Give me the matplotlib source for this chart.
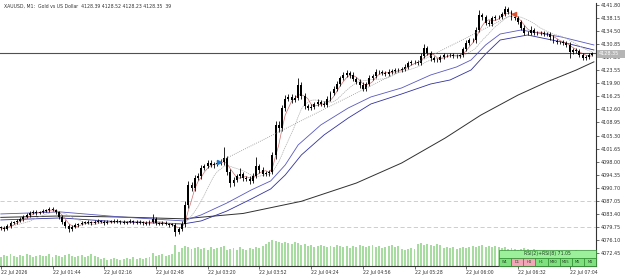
import matplotlib
matplotlib.use('Agg')
import matplotlib.pyplot as plt
import numpy as np
import pandas as pd
from matplotlib.patches import Rectangle

# ---------------- data ----------------
bar_minutes = 2  # each candle = 2 minutes, starting 22 Jul 01:12
first_open = 4079.60
closes = [
 4079.45,4079.17,4080.01,4080.85,4081.13,4081.41,4081.97,4082.53,4083.09,4083.65,
 4083.92,4083.65,4083.92,4084.20,4084.48,4084.76,4084.48,4083.92,4082.53,4081.13,
 4080.01,4079.17,4079.73,4080.29,4080.57,4080.85,4080.85,4081.13,4080.85,4081.13,
 4081.41,4081.13,4080.85,4081.13,4081.41,4081.13,4081.41,4081.13,4080.85,4081.13,
 4081.41,4081.13,4080.85,4081.13,4080.85,4080.57,4081.13,4081.97,4080.85,4080.57,
 4080.85,4080.57,4080.29,4080.29,4078.33,4079.17,4080.57,4085.88,4091.47,4090.64,
 4093.43,4093.99,4096.23,4096.79,4097.63,4097.07,4097.35,4097.63,4097.90,4099.02,
 4095.11,4092.03,4092.87,4093.99,4094.55,4093.43,4093.15,4092.59,4093.99,4096.79,
 4095.67,4094.55,4094.83,4095.11,4099.86,4108.25,4107.41,4113.00,4115.52,4116.08,
 4115.24,4115.80,4119.43,4116.36,4113.56,4113.00,4113.28,4114.12,4114.68,4114.12,
 4113.84,4115.52,4117.20,4118.32,4119.71,4121.39,4122.23,4122.79,4122.23,4121.11,
 4120.27,4119.43,4118.32,4119.71,4121.39,4121.95,4123.07,4123.07,4122.79,4122.51,
 4123.07,4123.35,4123.63,4123.63,4123.91,4124.47,4125.59,4125.86,4125.86,4125.59,
 4127.54,4129.78,4128.38,4126.98,4126.42,4126.42,4127.26,4127.82,4127.82,4127.82,
 4127.54,4127.54,4127.82,4129.50,4131.18,4132.01,4132.01,4134.81,4139.00,4138.44,
 4136.77,4136.49,4138.17,4138.44,4138.44,4139.28,4140.68,4139.84,4138.44,4138.17,
 4137.05,4135.37,4133.97,4133.97,4134.81,4133.97,4133.97,4133.97,4133.69,4133.69,
 4132.85,4131.73,4131.45,4131.45,4131.18,4130.62,4128.66,4129.22,4128.94,4127.82,
 4126.98,4127.26,4127.82,4128.35]
wick_up = [
 0.4,0.5,0.4,0.5,0.3,0.4,0.5,0.4,0.6,0.4, 0.5,0.6,0.4,0.5,0.4,0.6,0.5,0.4,0.3,0.4,
 0.5,0.4,0.6,0.4,0.3,0.4,0.5,0.4,0.3,0.4, 0.4,0.3,0.5,0.4,0.3,0.4,0.5,0.3,0.4,0.3,
 0.4,0.3,0.5,0.4,0.3,0.4,0.5,1.4,0.4,0.3, 0.4,0.5,0.3,0.4,0.5,0.6,0.8,1.0,1.2,0.8,
 0.9,0.7,0.8,0.6,0.7,0.8,0.6,0.7,0.8,3.1, 0.6,0.8,0.7,0.6,1.7,0.6,0.5,0.7,0.8,2.5,
 0.6,0.7,0.5,0.6,0.9,1.2,1.0,0.9,1.1,0.8, 0.9,0.7,2.0,0.8,0.7,0.6,0.7,0.6,0.8,0.6,
 0.7,0.8,0.6,0.7,0.8,0.6,0.7,0.8,0.6,0.7, 0.6,0.7,0.8,0.6,0.7,0.6,0.8,0.6,0.5,0.6,
 0.7,0.5,0.6,0.5,0.6,0.7,0.6,0.5,0.6,0.5, 0.7,1.1,0.6,0.5,0.6,0.5,0.6,0.5,0.4,0.5,
 0.6,0.5,0.4,0.6,0.7,0.6,0.5,0.8,1.4,0.7, 0.6,0.7,0.6,0.5,0.6,0.7,0.8,0.6,0.5,0.6,
 0.5,0.6,0.7,0.5,1.1,0.6,0.5,0.6,0.5,0.6, 0.5,0.6,0.5,0.4,0.5,0.6,0.7,0.5,0.6,0.5,
 0.6,0.5,0.6,0.4]
wick_dn = [
 0.5,0.6,0.4,0.5,0.4,0.5,0.4,0.5,0.4,0.5, 0.4,0.5,0.4,0.3,0.4,0.5,0.4,0.5,0.6,0.5,
 0.6,0.9,0.5,0.4,0.5,0.4,0.3,0.4,0.5,0.4, 0.3,0.4,0.5,0.3,0.4,0.3,0.4,0.5,0.4,0.3,
 0.4,0.5,0.3,0.4,0.5,0.4,0.3,0.4,0.5,0.4, 0.3,0.4,0.5,0.4,1.1,0.6,0.5,0.8,0.9,1.0,
 0.8,0.7,0.9,0.6,0.7,0.6,0.8,0.6,0.7,0.8, 0.9,1.0,0.8,0.7,0.6,0.8,0.7,0.9,0.6,0.7,
 0.8,0.6,0.7,0.8,0.7,1.0,1.2,0.9,0.8,0.7, 0.8,0.7,0.6,0.9,0.8,0.7,0.6,0.7,0.6,0.7,
 0.6,0.7,0.6,0.7,0.6,0.7,0.6,0.7,0.8,0.6, 0.7,0.8,0.7,0.6,0.7,0.6,0.5,0.6,0.7,0.6,
 0.5,0.6,0.5,0.6,0.5,0.6,0.5,0.6,0.5,0.6, 0.5,0.6,0.7,0.8,0.6,0.7,0.6,0.5,0.6,0.5,
 0.6,0.5,0.6,0.5,0.6,0.5,0.6,0.7,0.6,0.8, 0.7,0.6,0.5,0.6,0.5,0.6,0.5,0.6,0.7,0.6,
 0.7,0.6,0.5,0.6,0.5,0.6,0.5,0.6,0.5,0.6, 0.7,0.6,0.5,0.6,0.5,0.6,1.7,0.6,0.5,0.7,
 0.6,0.5,0.6,0.4]
volumes = [
 27,33,30,36,30,27,33,30,36,33,27,30,33,30,
 30,36,27,33,30,27,33,36,30,27,30,33,27,30,36,30,27,
 21,24,18,21,24,21,18,21,24,21,27,21,24,21,24,27,
 39,30,33,36,30,33,
 36,63,42,
 54,60,57,51,54,57,
 51,54,48,57,51,54,57,60,48,51,54,48,57,51,48,54,51,57,54,
 60,66,72,
 78,75,72,69,72,69,66,72,69,
 63,66,60,63,57,60,63,60,57,
 60,57,63,60,57,60,54,
 60,57,63,60,57,60,63,57,60,54,57,60,63,57,60,
 51,48,51,54,51,
 66,69,63,66,63,60,66,63,
 54,57,54,57,51,54,57,54,57,
 60,57,60,63,57,60,57,60,57,
 54,57,51,54,51,48,51,54,51,48,51,48,45,48,45,42,45,48,45,42,45,42,45,48,42,45,42,39,36]

# moving-average lines (minute, price)
ma_black_m = [0, 37, 74, 113, 150, 186, 220, 248, 275, 297, 320, 338, 356, 367]
ma_black_p = [4082.4, 4082.8, 4082.5, 4082.0, 4083.5, 4086.9, 4092.0, 4097.6, 4104.6,
              4111.0, 4116.6, 4120.3, 4123.6, 4125.9]
ma_bu_m = [0, 37, 74, 113, 124, 140, 155, 167, 176, 184, 198, 215, 229, 248, 266, 282,
           291, 300, 309, 322, 347, 367]
ma_bu_p = [4083.36, 4083.92, 4082.53, 4081.41, 4083.09, 4086.44, 4090.07, 4092.59, 4097.07,
           4102.66, 4108.25, 4113.00, 4116.08, 4118.60, 4122.23, 4124.47, 4126.42, 4130.62,
           4133.69, 4134.81, 4132.85, 4130.62]
ma_bl_m = [0, 37, 74, 113, 124, 140, 155, 167, 176, 186, 200, 215, 229, 248, 266, 278,
           291, 300, 309, 326, 347, 367]
ma_bl_p = [4081.68, 4082.24, 4081.13, 4080.57, 4081.41, 4084.20, 4087.55, 4090.35, 4094.26,
           4099.86, 4105.45, 4110.20, 4114.12, 4116.91, 4119.71, 4120.83, 4123.63, 4128.10,
           4132.01, 4133.41, 4131.45, 4129.22]

trade_m = [135, 317.5]
trade_p = [4097.90, 4139.28]
levels = [4087.0, 4079.7]
bid = 4128.35

price_ticks = [4141.80 - 3.65 * i for i in range(20)]
time_labels = ["22 Jul 2026", "22 Jul 01:44", "22 Jul 02:16", "22 Jul 02:48", "22 Jul 03:20",
               "22 Jul 03:52", "22 Jul 04:24", "22 Jul 04:56", "22 Jul 05:28", "22 Jul 06:00",
               "22 Jul 06:32", "22 Jul 07:04"]
time_label_min = [32 * i for i in range(12)]
title = "XAUUSD, M1:  Gold vs US Dollar  4128.39 4128.52 4128.23 4128.35  39"
panel_title = "RSI(2)+RSI(8) 71.05"
tf_names = ["W1", "D1", "H4", "H1", "M30", "M15", "M5", "M1"]
tf_colors = ["#7fe07f", "#f4a6b8", "#f4a6b8", "#7fe07f", "#7fe07f", "#7fe07f", "#7fe07f", "#7fe07f"]

# ---------------- figure ----------------
W, H = 625, 276
fig = plt.figure(figsize=(W / 100, H / 100), dpi=100)
fig.patch.set_facecolor('white')
L, R, T, B = 0, 596, 3, 266
ax = fig.add_axes([L / W, 1 - B / H, (R - L) / W, (B - T) / H])
ax.set_facecolor('none')

n = len(closes)
x = np.arange(n) * bar_minutes
c = np.array(closes)
o = np.concatenate([[first_open], c[:-1]])
hi = np.maximum(o, c) + np.array(wick_up)
lo = np.minimum(o, c) - np.array(wick_dn)

ax.set_xlim(-0.5, 368.3)
ax.set_ylim(4068.8, 4142.36)

# volume on its own scale
axv = ax.twinx()
axv.set_ylim(0, 789)
axv.bar(x, volumes, width=1.2, color='#a6dca0', zorder=1)
axv.axis('off')
axv.set_zorder(0)
ax.set_zorder(1)

# levels
for lv in levels:
    ax.axhline(lv, color='#b9cccc', lw=0.6, dashes=(5, 3), zorder=1)

# moving averages
ax.plot(ma_black_m, ma_black_p, color='#303030', lw=0.7, zorder=2)
ax.plot(ma_bu_m, ma_bu_p, color='#5858c0', lw=0.6, zorder=2)
ax.plot(ma_bl_m, ma_bl_p, color='#3030a0', lw=0.6, zorder=2)
s = pd.Series(c)
ax.plot(x, s.rolling(10, min_periods=1).mean(), color='#b0b0b0', lw=0.5, ls=(0, (2, 1)), zorder=2)
ax.plot(x, s.rolling(4, min_periods=1).mean(), color='#d07070', lw=0.5, zorder=2)

# bid line
ax.axhline(bid, color='#505050', lw=0.8, zorder=2)

# candles
ax.vlines(x, lo, hi, color='black', lw=0.6, zorder=3)
body_h = np.maximum(np.abs(c - o), 0.12)
ax.bar(x, body_h, bottom=np.minimum(o, c), width=1.2, color='black', lw=0, zorder=3)

# trade line and markers
ax.plot(trade_m, trade_p, color='#909090', lw=0.6, ls=(0, (1, 1.5)), zorder=4)
ax.plot(trade_m[0], trade_p[0], marker='>', color='#1e78c8', ms=3, zorder=5)
ax.plot(trade_m[1], trade_p[1], marker='<', color='#e05030', ms=3, zorder=5)

# axes styling
for sp in ['top', 'left']:
    ax.spines[sp].set_visible(False)
ax.spines['right'].set_color('#333333')
ax.spines['bottom'].set_color('#333333')
ax.spines['right'].set_linewidth(0.8)
ax.spines['bottom'].set_linewidth(0.8)
ax.yaxis.tick_right()
ax.set_yticks(price_ticks)
ax.set_yticklabels([f"{v:.2f}" for v in price_ticks])
ax.tick_params(axis='y', length=2.5, width=0.5, pad=0.8, labelsize=3.5, colors='#333333')
ax.set_xticks(time_label_min)
ax.set_xticklabels(time_labels, ha='left')
ax.tick_params(axis='x', length=2, width=0.5, pad=0.8, labelsize=3.3, colors='#333333')

# title
fig.text(4 / W, 1 - 6 / H, title, fontsize=3.3, color='#333333', va='center', ha='left')

# bid box on axis
fig.patches.append(Rectangle((597 / W, 1 - 57.5 / H), 28 / W, 7.5 / H, transform=fig.transFigure,
                             facecolor='#b5b5b5', edgecolor='none'))
fig.text(599 / W, 1 - 53.7 / H, "4128.35", fontsize=3.5, color='white', va='center', ha='left')

# RSI panel
px0, px1 = 499, 596
fig.patches.append(Rectangle((px0 / W, 1 - 258 / H), (px1 - px0) / W, 8 / H, transform=fig.transFigure,
                             facecolor='#9cf09c', edgecolor='#2f8f2f', lw=0.5))
fig.text((px0 + px1) / 2 / W, 1 - 254 / H, panel_title, fontsize=3.3, color='#204020', ha='center', va='center')
cw = (px1 - px0) / len(tf_names)
for i, (nm, col) in enumerate(zip(tf_names, tf_colors)):
    fig.patches.append(Rectangle(((px0 + i * cw) / W, 1 - 266 / H), cw / W, 8 / H, transform=fig.transFigure,
                                 facecolor=col, edgecolor='#2f8f2f', lw=0.5))
    fig.text((px0 + (i + 0.5) * cw) / W, 1 - 262 / H, nm, fontsize=2.6, color='#204020', ha='center', va='center')

fig.savefig('out.png', dpi=100, facecolor='white')
